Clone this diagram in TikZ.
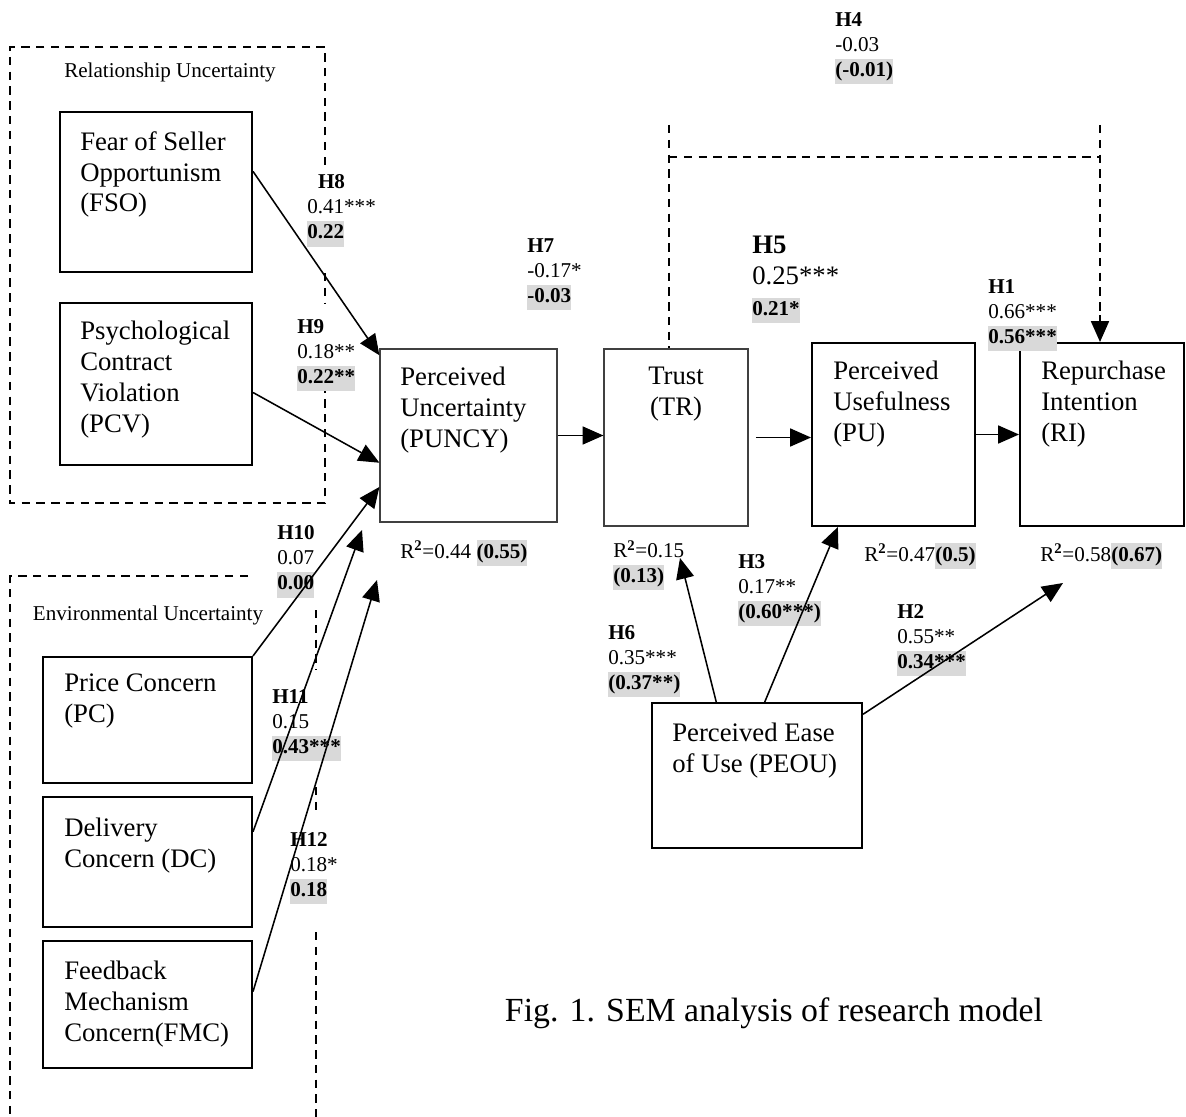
\documentclass[tikz,border=0pt]{standalone}
\usepackage{fontspec}
\setmainfont{Liberation Serif}
\usepackage{xcolor}
\usepackage{tikz}
\usetikzlibrary{arrows.meta}

\definecolor{hlgray}{HTML}{D9D9D9}
\newcommand{\grayhl}[1]{{\setlength{\fboxsep}{0pt}\colorbox{hlgray}{\strut\textbf{#1}}}}

\tikzstyle{tsBox} = [
    rectangle,
    draw=black,
    line width=1.4pt]
\tikzstyle{tsThinBox} = [
    rectangle,
    draw=black!75,
    line width=0.8pt]
\tikzstyle{tsBoxText} = [
    font=\fontsize{19}{22}\selectfont,
    align=left,
    anchor=north west,
    inner sep=0pt]
\tikzstyle{tsSmall} = [
    font=\fontsize{15}{18}\selectfont,
    align=left,
    anchor=north west,
    inner sep=0pt]
\tikzstyle{tsGroup} = [
    draw=black,
    line width=1.1pt,
    dash pattern=on 6pt off 4.5pt]
\tikzstyle{tsArrow} = [
    draw=black,
    line width=1.1pt,
    -{Triangle[length=0.52cm,width=0.45cm]}]

\begin{document}
\begin{tikzpicture}[x=0.025cm, y=-0.025cm]

        \useasboundingbox (0,0) rectangle (1186,1117);

        % dashed groups
        \draw[tsGroup] (325,165) -- (325,47) -- (10,47) -- (10,503) -- (325,503) -- (325,390);
        \draw[tsGroup] (325,273) -- (325,303);
        \draw[tsGroup] (248,576) -- (10,576) -- (10,1117);
        \draw[tsGroup] (316,610) -- (316,670);
        \draw[tsGroup] (316,787) -- (316,815);
        \draw[tsGroup] (316,932) -- (316,1117);

        \node[tsSmall, anchor=center] (relLbl) at (170,72) {Relationship Uncertainty};
        \node[tsSmall, anchor=center] (envLbl) at (148,615) {Environmental Uncertainty};

        % boxes
        \node[tsBox, minimum width=4.8cm, minimum height=4cm] (fso) at (156,192) {};
        \node[tsBox, minimum width=4.8cm, minimum height=4.05cm] (pcv) at (156,384) {};
        \node[tsThinBox, minimum width=4.425cm, minimum height=4.325cm] (puncy) at (468.5,435.5) {};
        \node[tsThinBox, minimum width=3.6cm, minimum height=4.425cm] (tr) at (676,437.5) {};
        \node[tsBox, minimum width=4.075cm, minimum height=4.575cm] (pu) at (893.5,434.5) {};
        \node[tsBox, minimum width=4.1cm, minimum height=4.575cm] (ri) at (1102,434.5) {};
        \node[tsBox, minimum width=5.225cm, minimum height=3.15cm] (pc) at (147.5,720) {};
        \node[tsBox, minimum width=5.225cm, minimum height=3.25cm] (dc) at (147.5,862) {};
        \node[tsBox, minimum width=5.225cm, minimum height=3.175cm] (fmc) at (147.5,1004.5) {};
        \node[tsBox, minimum width=5.25cm, minimum height=3.625cm] (peou) at (757,775.5) {};

        \node[tsBoxText] (fsoText) at (80,131) {Fear of Seller\\Opportunism\\(FSO)};
        \node[tsBoxText] (pcvText) at (80,321) {Psychological\\Contract\\Violation\\(PCV)};
        \node[tsBoxText] (puncyText) at (400,367) {Perceived\\Uncertainty\\(PUNCY)};
        \node[tsBoxText, align=center, anchor=north] (trText) at (676,367) {Trust\\(TR)};
        \node[tsBoxText] (puText) at (833,361) {Perceived\\Usefulness\\(PU)};
        \node[tsBoxText] (riText) at (1041,361) {Repurchase\\Intention\\(RI)};
        \node[tsBoxText] (pcText) at (64,674) {Price Concern\\(PC)};
        \node[tsBoxText] (dcText) at (64,818) {Delivery\\Concern (DC)};
        \node[tsBoxText] (fmcText) at (64,961) {Feedback\\Mechanism\\Concern(FMC)};
        \node[tsBoxText] (peouText) at (672,723) {Perceived Ease\\of Use (PEOU)};

        % path labels
        \node[tsSmall] (h4Lbl) at (835,12) {\textbf{H4}\\-0.03\\\grayhl{(-0.01)}};
        \node[tsSmall] (h8Lbl) at (307,174) {\hspace*{0.27cm}\textbf{H8}\\0.41***\\\grayhl{0.22}};
        \node[tsSmall] (h9Lbl) at (297,319) {\textbf{H9}\\0.18**\\\grayhl{0.22**}};
        \node[tsSmall] (h7Lbl) at (527,238) {\textbf{H7}\\-0.17*\\\grayhl{-0.03}};
        \node[tsBoxText] (h5Lbl) at (752,236) {\textbf{H5}\\0.25***\\{\fontsize{15}{18}\selectfont\grayhl{0.21*}}};
        \node[tsSmall] (h1Lbl) at (988,279) {\textbf{H1}\\0.66***\\\grayhl{0.56***}};
        \node[tsSmall] (h10Lbl) at (277,525) {\textbf{H10}\\0.07\\\grayhl{0.00}};
        \node[tsSmall] (h11Lbl) at (272,689) {\textbf{H11}\\0.15\\\grayhl{0.43***}};
        \node[tsSmall] (h12Lbl) at (290,832) {\textbf{H12}\\0.18*\\\grayhl{0.18}};
        \node[tsSmall] (h6Lbl) at (608,625) {\textbf{H6}\\0.35***\\\grayhl{(0.37**)}};
        \node[tsSmall] (h3Lbl) at (738,554) {\textbf{H3}\\0.17**\\\grayhl{(0.60***)}};
        \node[tsSmall] (h2Lbl) at (897,604) {\textbf{H2}\\0.55**\\\grayhl{0.34***}};

        \node[tsSmall] (puncyR2) at (400,540) {R\textsuperscript{\textbf{2}}=0.44 \grayhl{(0.55)}};
        \node[tsSmall] (trR2) at (613,540) {R\textsuperscript{\textbf{2}}=0.15\\\grayhl{(0.13)}};
        \node[tsSmall] (puR2) at (864,543) {R\textsuperscript{\textbf{2}}=0.47\grayhl{(0.5)}};
        \node[tsSmall] (riR2) at (1040,543) {R\textsuperscript{\textbf{2}}=0.58\grayhl{(0.67)}};

        \node[font=\fontsize{24}{29}\selectfont, inner sep=0pt] (caption) at (774,1013) {Fig. 1. SEM analysis of research model};

        % free arrow ends
        \coordinate (dcIn) at (362,530);
        \coordinate (fmcIn) at (377,580);
        \coordinate (trIn) at (680,558);
        \coordinate (riIn) at (1063,583);
        \coordinate (h4Left) at (669,125);
        \coordinate (h4Right) at (1100,125);

        % H4 bracket
        \draw[tsGroup] (h4Left) -- (h4Left |- tr.north);
        \draw[tsGroup] (h4Left |- 0,157) -- (h4Right |- 0,157);
        \draw[tsGroup] (h4Right) -- (h4Right |- ri.north);
        \draw[tsArrow] (h4Right |- 0,315) -- (h4Right |- ri.north);

        % arrows
        \draw[tsArrow] (fso.12) -- (puncy.138);
        \draw[tsArrow] (pcv.-5) -- (puncy.197);
        \draw[tsArrow] (pc.north east) -- (puncy.210);
        \draw[tsArrow] (dc.16) -- (dcIn);
        \draw[tsArrow] (fmc.7) -- (fmcIn);
        \draw[tsArrow] (puncy.east) -- (puncy.east -| tr.west);
        \draw[tsArrow, shorten <=0.18cm] (tr.east) -- (tr.east -| pu.west);
        \draw[tsArrow] (pu.east) -- (ri.west);
        \draw[tsArrow] (peou.119) -- (trIn);
        \draw[tsArrow] (peou.84) -- (pu.239);
        \draw[tsArrow] (peou.30) -- (riIn);

\end{tikzpicture}
\end{document}
